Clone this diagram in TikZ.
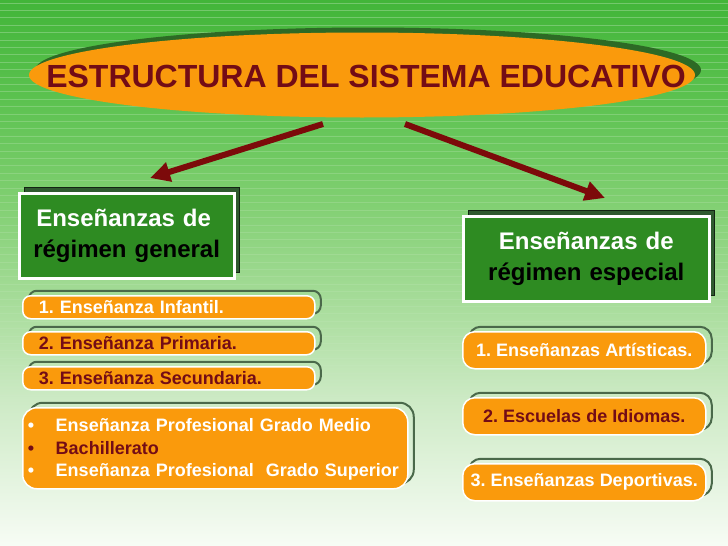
\documentclass[tikz,border=0pt]{standalone}
\usepackage{fontspec}
\setmainfont{Liberation Sans}
\usetikzlibrary{shapes.geometric,arrows.meta}
\definecolor{orng}{HTML}{FA9A0C}
\definecolor{dred}{HTML}{730C16}
\definecolor{arrred}{HTML}{7C0A0A}
\definecolor{boxgreen}{HTML}{2E8B22}
\definecolor{shline}{HTML}{4A694A}
\definecolor{boxsh}{HTML}{2F5A2F}
\definecolor{ellsh}{HTML}{2D6A25}
\definecolor{bgA}{HTML}{42B539}
\definecolor{bgB}{HTML}{5CC250}
\definecolor{bgC}{HTML}{80CF71}
\definecolor{bgD}{HTML}{A6DC99}
\definecolor{bgE}{HTML}{CDEAC5}
\definecolor{bgF}{HTML}{F7FCF5}
\pgfdeclareverticalshading{bgsh}{100bp}{color(0bp)=(bgF); color(25bp)=(bgF); color(38.37bp)=(bgE); color(47.53bp)=(bgD); color(56.68bp)=(bgC); color(65.84bp)=(bgB); color(75bp)=(bgA); color(100bp)=(bgA)}
\tikzset{
  titleell/.style={ellipse, fill=orng, minimum width=666pt, minimum height=85pt, inner sep=0pt,
    preaction={fill=ellsh, transform canvas={shift={(6pt,5pt)}}}},
  titletext/.style={inner sep=0pt, text=dred, font=\bfseries\fontsize{32}{34}\selectfont},
  hdr/.style={rectangle, fill=boxgreen, draw=white, line width=2.5pt, inner sep=0pt, text=black,
    font=\bfseries\fontsize{24}{31}\selectfont,
    preaction={fill=boxsh, draw=black!60!boxsh, line width=1pt, transform canvas={shift={(5pt,6pt)}}}},
  pillbase/.style={fill=orng, draw=white, line width=1.5pt, inner ysep=0pt,
    preaction={draw=shline, line width=2pt, transform canvas={shift={(6pt,5pt)}}}},
  lpill/.style={pillbase, rounded corners=8pt, minimum height=23pt, text width=260pt, inner xsep=16pt,
    align=left, anchor=north west, font=\bfseries\fontsize{18}{20}\selectfont},
  rpill/.style={pillbase, rounded corners=12pt, minimum height=37pt, minimum width=243pt, inner xsep=0pt,
    anchor=north west, font=\bfseries\fontsize{18}{20}\selectfont},
  arr/.style={arrred, line width=6pt, -{Triangle[length=20pt,width=19pt]}},
}
\begin{document}
\frenchspacing
\begin{tikzpicture}[x=1pt,y=-1pt]
\useasboundingbox (0,0) rectangle (728,546);
\shade[shading=bgsh] (0,0) rectangle (728,546);
\foreach \i in {0,...,56}{
  \pgfmathsetmacro{\op}{max(0,0.26-\i*0.0045)}
  \draw[white, opacity=\op, line width=0.9pt] (0,{3+\i*7.4}) -- (728,{3+\i*7.4});
}
% title
\node[titleell] (t) at (362,75) {};
\node[titletext] (tt) at (366,76) {ESTRUCTURA DEL SISTEMA EDUCATIVO};
% arrows
\coordinate (a1s) at (323,124);
\coordinate (a1e) at (150,178);
\coordinate (a2s) at (405,124);
\coordinate (a2e) at (605,198);
\draw[arr] (a1s) -- (a1e);
\draw[arr] (a2s) -- (a2e);
% headers
\node[hdr, minimum width=215pt, minimum height=85pt, anchor=north west, text width=197pt, inner xsep=9pt, align=left] (g) at (18,192)
  {\hspace*{8pt}{\color{white}Enseñanzas de}\\\hspace*{5pt}régimen general};
\node[hdr, minimum width=246pt, minimum height=85pt, anchor=north west, text width=240pt, align=center] (e) at (462,215)
  {{\color{white}Enseñanzas de}\\régimen especial};
% left pills
\node[lpill, text=white] (p1) at (22,295) {1. Enseñanza Infantil.};
\node[lpill, text=dred] (p2) at (22,331) {2. Enseñanza Primaria.};
\node[lpill, text=dred] (p3) at (22,366) {3. Enseñanza Secundaria.};
\node[pillbase, rounded corners=14pt, anchor=north west, minimum height=81pt, text width=375pt, inner xsep=5pt,
  align=left, font=\bfseries\fontsize{18}{22.5}\selectfont] (p4) at (22,407)
  {\rule{0pt}{16pt}\color{white}\makebox[28pt][l]{\textbullet}Enseñanza Profesional Grado Medio\\
   \color{dred}\makebox[28pt][l]{\textbullet}Bachillerato\\
   \color{white}\makebox[28pt][l]{\textbullet}Enseñanza Profesional\ \ Grado Superior};
% right pills
\node[rpill, text=white] (r1) at (462,331) {1. Enseñanzas Artísticas.};
\node[rpill, text=dred] (r2) at (462,397) {2. Escuelas de Idiomas.};
\node[rpill, text=white] (r3) at (462,463) {3. Enseñanzas Deportivas.};
\end{tikzpicture}
\end{document}
